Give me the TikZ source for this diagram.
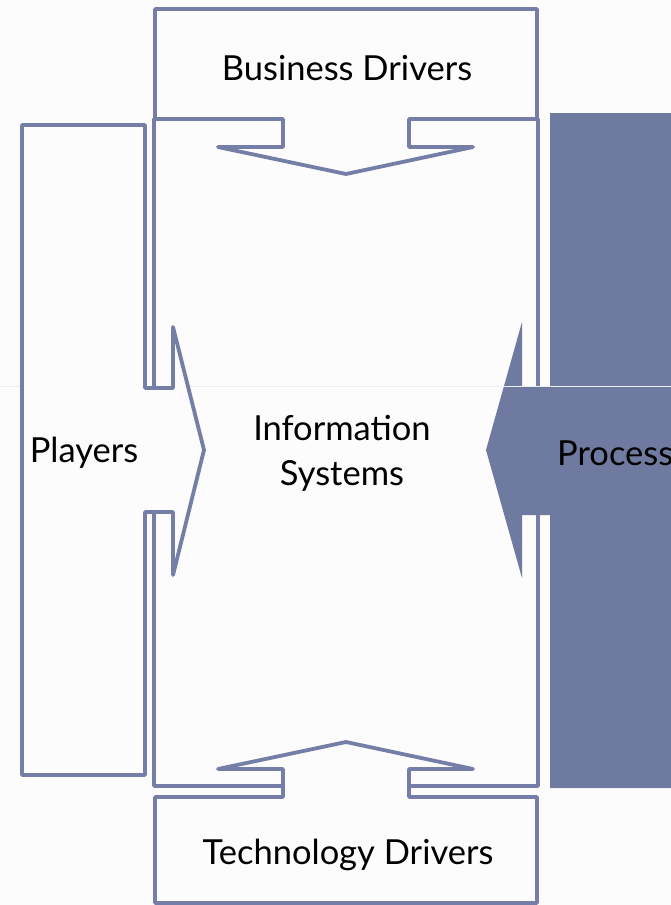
\documentclass[tikz,border=0pt]{standalone}
\usepackage{fontspec}
\setmainfont{Lato}
\definecolor{edge}{RGB}{116,126,166}
\definecolor{procfill}{RGB}{111,122,160}
\definecolor{seam}{RGB}{236,238,243}
\definecolor{paper}{RGB}{252,252,253}
\begin{document}
\begin{tikzpicture}[x=1pt,y=-1pt,
  outline/.style={draw=edge,line width=3.8pt,line join=round,fill=paper},
  label/.style={font=\fontsize{34.5}{45}\selectfont,text=black,align=center,inner sep=0pt}]
\useasboundingbox (0,0) rectangle (671,905);
\fill[paper] (0,0) rectangle (671,905);
\begin{scope}
\clip (0,0) rectangle (671,905);
% central information systems block
\draw[outline] (154,119) rectangle (538,786);
% process block with its arrow pointing left
\fill[procfill] (550,113) -- (690,113) -- (690,788) -- (550,788) -- (550,515)
  -- (522,515) -- (522,578) -- (486,450) -- (522,322) -- (522,386) -- (550,386) -- cycle;
% faint horizontal seam across the slide
\draw[seam,line width=1pt] (0,386) -- (671,386);
% players block with its arrow pointing right
\draw[outline] (22,125) -- (145,125) -- (145,388) -- (173,388) -- (173,327)
  -- (204,450) -- (173,575) -- (173,512) -- (145,512) -- (145,775) -- (22,775) -- cycle;
% business drivers block with its arrow pointing down
\draw[outline] (155,9) -- (537,9) -- (537,119) -- (409,119) -- (409,147) -- (473,147)
  -- (346,174) -- (218,147) -- (283,147) -- (283,119) -- (155,119) -- cycle;
% technology drivers block with its arrow pointing up
\draw[outline] (155,797) -- (283,797) -- (283,769) -- (218,769) -- (346,742)
  -- (473,769) -- (409,769) -- (409,797) -- (537,797) -- (537,903) -- (155,903) -- cycle;
% labels
\node[label] (bus) at (347,68) {Business Drivers};
\node[label] (tech) at (348,855) {Technology Drivers};
\node[label] (play) at (84,453) {Players};
\node[label] (info) at (342,453) {Information\\Systems};
\node[label,anchor=west] (proc) at (557,453) {Process};
\end{scope}
\end{tikzpicture}
\end{document}
